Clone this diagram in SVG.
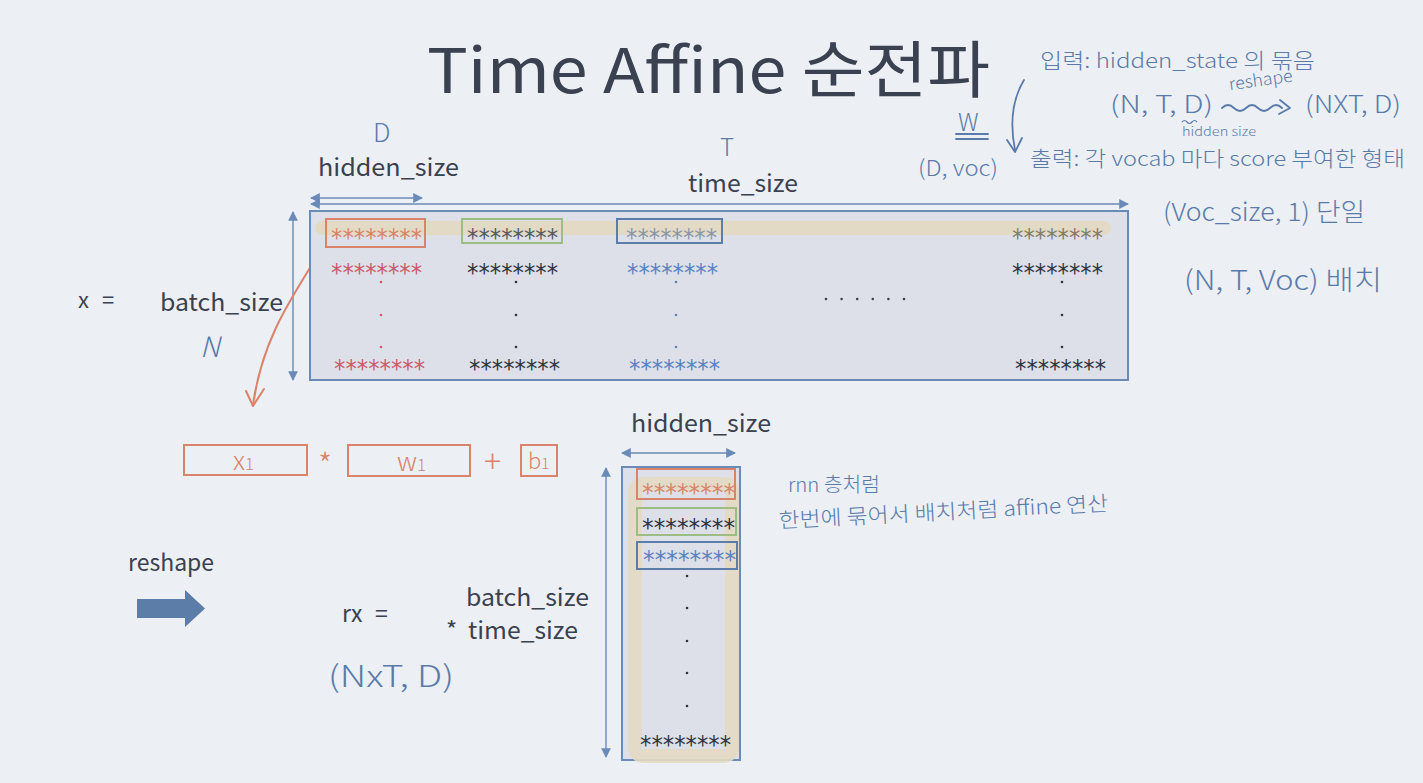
<svg xmlns="http://www.w3.org/2000/svg" width="1423" height="783" viewBox="0 0 1423 783">
  <defs>
    <style>
      .t { font-family: "Noto Sans CJK KR", "Noto Sans", "Liberation Sans", sans-serif; fill: #3A4150; }
      .hw { font-family: "Noto Sans CJK KR", "Noto Sans", sans-serif; fill: #5A7BAA; font-weight: 300; }
      .hwo { font-family: "Noto Sans CJK KR", "Noto Sans", sans-serif; fill: #D9836A; font-weight: 300; }
      .star { font-family: "DejaVu Sans", sans-serif; font-size: 25px; }
      .mat { fill: #DDE0E8; stroke: #6A8AB8; stroke-width: 2; }
      .dim { stroke: #6A8AB8; stroke-width: 1.4; fill: none; }
      .ob { fill: none; stroke: #D9836A; stroke-width: 2; }
      .gb { fill: none; stroke: #9DBD82; stroke-width: 2; }
      .bb { fill: none; stroke: #5C7DAA; stroke-width: 2; }
      .pen { fill: none; stroke: #5A7BAA; stroke-width: 1.8; stroke-linecap: round; stroke-linejoin: round; }
      .c-or { fill: #D9836A; } .c-rd { fill: #CC5A6A; } .c-dk { fill: #2F3440; }
      .c-bl { fill: #5B82C0; } .c-gy { fill: #8A96A8; } .c-dg { fill: #555A60; } .c-br { fill: #857A6A; }
    </style>
    <marker id="ah" viewBox="0 0 10 10" refX="9" refY="5" markerWidth="7" markerHeight="7" orient="auto-start-reverse">
      <path d="M0,0 L10,5 L0,10 z" fill="#6A8AB8"/>
    </marker>
  </defs>

  <rect width="1423" height="783" fill="#ECEFF4"/>

  <!-- title -->
  <text id="title" class="t" x="427" y="93" font-size="62" textLength="563" lengthAdjust="spacingAndGlyphs">Time Affine 순전파</text>

  <!-- dimension arrows -->
  <g id="connectors">
    <line class="dim" x1="311" y1="198" x2="422" y2="198" marker-start="url(#ah)" marker-end="url(#ah)"/>
    <line class="dim" x1="311" y1="204" x2="1128" y2="204" marker-start="url(#ah)" marker-end="url(#ah)"/>
    <line class="dim" x1="293" y1="212" x2="293" y2="380" marker-start="url(#ah)" marker-end="url(#ah)"/>
    <line class="dim" x1="622" y1="453" x2="735" y2="453" marker-start="url(#ah)" marker-end="url(#ah)"/>
    <line class="dim" x1="606" y1="468" x2="606" y2="757" marker-start="url(#ah)" marker-end="url(#ah)"/>
    <!-- orange pen arrow from x1 slice down to the affine row -->
    <path d="M323,247 C290,300 262,340 253,405" fill="none" stroke="#D9836A" stroke-width="2" stroke-linecap="round"/>
    <path d="M246,391 L253,406 L264,389" fill="none" stroke="#D9836A" stroke-width="2" stroke-linecap="round" stroke-linejoin="round"/>
  </g>

  <!-- input matrix x -->
  <g id="matrix-x">
    <rect class="mat" x="310" y="211" width="818" height="169"/>
    <line x1="322" y1="228" x2="1104" y2="228" stroke="#E3DAC3" stroke-width="14" stroke-linecap="round" opacity="0.95"/>
    <rect class="ob" x="326" y="219" width="99" height="28"/>
    <rect class="gb" x="462" y="219" width="100" height="24"/>
    <rect class="bb" x="617" y="219" width="105" height="24"/>
    <!-- first row -->
    <text class="star c-or" x="331" y="246" textLength="91" lengthAdjust="spacingAndGlyphs">********</text>
    <text class="star c-dg" x="467" y="246" textLength="91" lengthAdjust="spacingAndGlyphs">********</text>
    <text class="star c-gy" x="626" y="246" textLength="91" lengthAdjust="spacingAndGlyphs">********</text>
    <text class="star c-br" x="1012" y="246" textLength="91" lengthAdjust="spacingAndGlyphs">********</text>
    <!-- second row -->
    <text class="star c-rd" x="331" y="281" textLength="91" lengthAdjust="spacingAndGlyphs">********</text>
    <text class="star c-dk" x="467" y="281" textLength="91" lengthAdjust="spacingAndGlyphs">********</text>
    <text class="star c-bl" x="627" y="281" textLength="91" lengthAdjust="spacingAndGlyphs">********</text>
    <text class="star c-dk" x="1012" y="281" textLength="91" lengthAdjust="spacingAndGlyphs">********</text>
    <!-- vertical ellipses -->
    <g fill="#CC5A6A"><circle cx="381" cy="282" r="1.3"/><circle cx="381" cy="315" r="1.3"/><circle cx="381" cy="347" r="1.3"/></g>
    <g fill="#2F3440"><circle cx="516" cy="282" r="1.3"/><circle cx="516" cy="315" r="1.3"/><circle cx="516" cy="347" r="1.3"/></g>
    <g fill="#5B82C0"><circle cx="676" cy="282" r="1.3"/><circle cx="676" cy="315" r="1.3"/><circle cx="676" cy="347" r="1.3"/></g>
    <g fill="#2F3440"><circle cx="1062" cy="282" r="1.3"/><circle cx="1062" cy="315" r="1.3"/><circle cx="1062" cy="347" r="1.3"/></g>
    <!-- horizontal ellipsis -->
    <g fill="#3A4150"><circle cx="826" cy="299" r="1.3"/><circle cx="841.6" cy="299" r="1.3"/><circle cx="857.2" cy="299" r="1.3"/><circle cx="872.8" cy="299" r="1.3"/><circle cx="888.4" cy="299" r="1.3"/><circle cx="904" cy="299" r="1.3"/></g>
    <!-- last row -->
    <text class="star c-rd" x="334" y="377" textLength="91" lengthAdjust="spacingAndGlyphs">********</text>
    <text class="star c-dk" x="469" y="377" textLength="91" lengthAdjust="spacingAndGlyphs">********</text>
    <text class="star c-bl" x="629" y="377" textLength="91" lengthAdjust="spacingAndGlyphs">********</text>
    <text class="star c-dk" x="1015" y="377" textLength="91" lengthAdjust="spacingAndGlyphs">********</text>
  </g>

  <!-- labels of x -->
  <g id="labels-x">
    <text class="t" x="318" y="176" font-size="24" textLength="141" lengthAdjust="spacingAndGlyphs">hidden_size</text>
    <text class="t" x="688" y="192" font-size="24" textLength="110" lengthAdjust="spacingAndGlyphs">time_size</text>
    <text class="t" x="78" y="308" font-size="22">x</text>
    <text class="t" x="102" y="308" font-size="22">=</text>
    <text class="t" x="160" y="311" font-size="24" textLength="123" lengthAdjust="spacingAndGlyphs">batch_size</text>
    <text class="hw" x="373" y="142" font-size="26">D</text>
    <text class="hw" x="720" y="156" font-size="24">T</text>
    <text class="hw" x="200" y="357" font-size="28" font-style="italic">N</text>
  </g>

  <!-- single affine row x1 * w1 + b1 -->
  <g id="affine-row">
    <rect class="ob" x="184" y="445" width="123" height="30"/>
    <text class="hwo" x="233" y="470" font-size="26">x<tspan font-size="17">1</tspan></text>
    <text class="hwo" x="318" y="477" font-size="32">*</text>
    <rect class="ob" x="348" y="445" width="122" height="31"/>
    <text class="hwo" x="397" y="471" font-size="26">w<tspan font-size="17">1</tspan></text>
    <text class="hwo" x="484" y="473" font-size="32">+</text>
    <rect class="ob" x="521" y="445" width="36" height="31"/>
    <text class="hwo" x="528" y="469" font-size="22">b<tspan font-size="15">1</tspan></text>
  </g>

  <!-- reshape arrow -->
  <g id="reshape">
    <text class="t" x="128" y="571" font-size="23">reshape</text>
    <path d="M137,599 L185,599 L185,590 L205,608.5 L185,627 L185,618 L137,618 z" fill="#5B7DA8"/>
  </g>

  <!-- rx labels -->
  <g id="labels-rx">
    <text class="t" x="342" y="622" font-size="23">rx</text>
    <text class="t" x="375" y="622" font-size="23">=</text>
    <text class="t" x="466" y="606" font-size="24" textLength="123" lengthAdjust="spacingAndGlyphs">batch_size</text>
    <text class="t" x="446" y="639" font-size="24">*</text>
    <text class="t" x="468" y="639" font-size="24" textLength="110" lengthAdjust="spacingAndGlyphs">time_size</text>
    <text class="hw" x="328" y="687" font-size="30" textLength="126" lengthAdjust="spacingAndGlyphs">(NxT, D)</text>
    <text class="t" x="631" y="432" font-size="24" textLength="140" lengthAdjust="spacingAndGlyphs">hidden_size</text>
  </g>

  <!-- reshaped matrix rx -->
  <g id="matrix-rx">
    <rect class="mat" x="622" y="467" width="118" height="293"/>
    <rect x="635" y="484" width="97" height="272" rx="8" fill="none" stroke="#E3DAC3" stroke-width="14" opacity="0.9"/>
    <rect class="ob" x="637" y="469" width="98" height="30"/>
    <rect class="gb" x="637" y="508" width="99" height="27"/>
    <rect class="bb" x="637" y="542" width="100" height="27"/>
    <text class="star c-or" x="642" y="501" textLength="93" lengthAdjust="spacingAndGlyphs">********</text>
    <text class="star c-dk" x="642" y="536" textLength="93" lengthAdjust="spacingAndGlyphs">********</text>
    <text class="star c-bl" x="643" y="568" textLength="93" lengthAdjust="spacingAndGlyphs">********</text>
    <g fill="#2F3440"><circle cx="687" cy="576" r="1.3"/><circle cx="687" cy="608" r="1.3"/><circle cx="687" cy="641" r="1.3"/><circle cx="687" cy="673" r="1.3"/><circle cx="687" cy="706" r="1.3"/></g>
    <text class="star c-dk" x="640" y="753" textLength="91" lengthAdjust="spacingAndGlyphs">********</text>
  </g>

  <!-- notes -->
  <g id="notes">
    <text class="hw" x="1040" y="68" font-size="21" textLength="275" lengthAdjust="spacingAndGlyphs">입력: hidden_state 의 묶음</text>
    <text class="hw" x="1229" y="86" font-size="17" transform="rotate(-8 1260 82)" textLength="64" lengthAdjust="spacingAndGlyphs">reshape</text>
    <text class="hw" x="1110" y="113" font-size="24" textLength="103" lengthAdjust="spacingAndGlyphs">(N, T, D)</text>
    <path class="pen" d="M1222,108 q6,-6 12,0 t12,0 t12,0 t12,0 t12,0"/>
    <path class="pen" d="M1280,100 L1290,108 L1279,114"/>
    <text class="hw" x="1305" y="113" font-size="24" textLength="96" lengthAdjust="spacingAndGlyphs">(NXT, D)</text>
    <path d="M1182,122 q2.5,-3 5,0 t5,0 t5,0" fill="none" stroke="#5A7BAA" stroke-width="1.2"/>
    <text class="hw" x="1182" y="136" font-size="12" textLength="74" lengthAdjust="spacingAndGlyphs">hidden size</text>
    <path class="pen" d="M1024,80 C1012,100 1010,125 1015,150"/>
    <path class="pen" d="M1007,140 L1015,152 L1022,138"/>
    <text class="hw" x="1030" y="166" font-size="21" textLength="375" lengthAdjust="spacingAndGlyphs">출력: 각 vocab 마다 score 부여한 형태</text>
    <text class="hw" x="958" y="131" font-size="24">W</text>
    <line class="pen" x1="956" y1="134" x2="988" y2="134"/>
    <line class="pen" x1="956" y1="139" x2="988" y2="139"/>
    <text class="hw" x="918" y="176" font-size="22" textLength="80" lengthAdjust="spacingAndGlyphs">(D, voc)</text>
    <text class="hw" x="1163" y="221" font-size="25" textLength="202" lengthAdjust="spacingAndGlyphs">(Voc_size, 1) 단일</text>
    <text class="hw" x="1184" y="290" font-size="27" textLength="198" lengthAdjust="spacingAndGlyphs">(N, T, Voc) 배치</text>
    <text class="hw" x="788" y="492" font-size="20" textLength="92" lengthAdjust="spacingAndGlyphs">rnn 층처럼</text>
    <text class="hw" x="779" y="528" font-size="21" transform="rotate(-3 779 528)" textLength="330" lengthAdjust="spacingAndGlyphs">한번에 묶어서 배치처럼 affine 연산</text>
  </g>
</svg>
